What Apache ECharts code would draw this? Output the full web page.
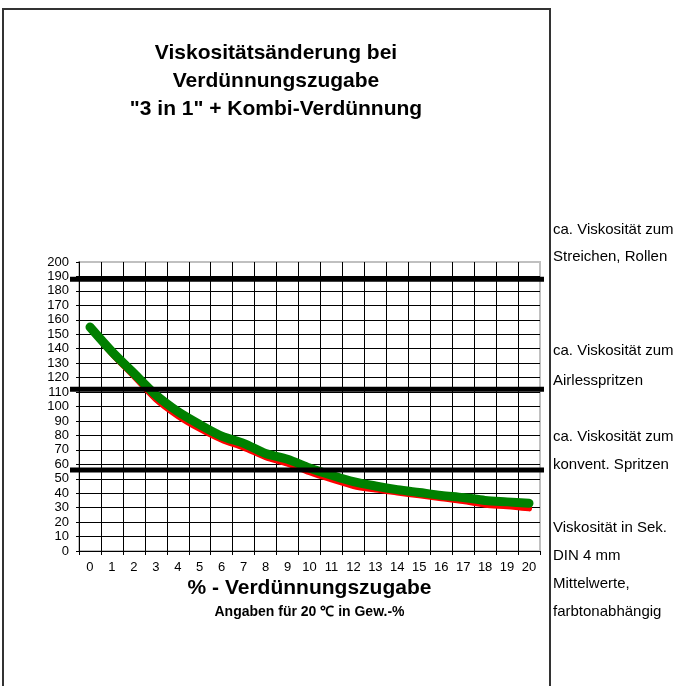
<!DOCTYPE html>
<html>
<head>
<meta charset="utf-8">
<script src="https://cdn.jsdelivr.net/npm/echarts@6/dist/echarts.min.js"></script>
<style>
  html, body { margin: 0; padding: 0; background: #fff; }
  #chart { width: 687px; height: 686px; }
</style>
</head>
<body>
<div id="chart"></div>
<script>
// x: % Verdünnung (Gew.-%)
const categories = ['0', '1', '2', '3', '4', '5', '6', '7', '8', '9', '10',
  '11', '12', '13', '14', '15', '16', '17', '18', '19', '20'];
// Viskosität in Sek. DIN 4 mm
const redValues = [155, 136.5, 121, 105, 93.5, 84.5, 77, 71.5, 65, 60.5, 54.5,
  49.5, 45, 42.5, 40.5, 38.5, 36.5, 34.5, 32, 31, 29.5];
const greenValues = [155, 138, 123, 108, 96.5, 87.5, 79.5, 74.5, 67.5, 63.5, 57.5,
  52.5, 48, 45, 42.5, 40.5, 38.5, 37, 35, 34, 33];
const yMin = 0;
const yMax = 200;
const yStep = 10;
// Richtwerte (dicke schwarze Linien)
const thresholds = [188, 112, 56];

const titleLines = ['Viskositätsänderung bei', 'Verdünnungszugabe', '"3 in 1" + Kombi-Verdünnung'];
const xName = '% - Verdünnungszugabe';
const xSubName = 'Angaben für 20 ℃ in Gew.-%';
const notes = [
  'ca. Viskosität zum', 'Streichen, Rollen',
  'ca. Viskosität zum', 'Airlesspritzen',
  'ca. Viskosität zum', 'konvent. Spritzen',
  'Viskosität in Sek.', 'DIN 4 mm', 'Mittelwerte,', 'farbtonabhängig'
];
const noteY = [230, 257, 351, 381, 437, 465, 528, 556, 584, 612];

const font = "'Liberation Sans', Arial, sans-serif";
const chart = echarts.init(document.getElementById('chart'), null, { renderer: 'canvas' });

const gridLeft = 79, gridRight = 147, gridTop = 262, gridBottom = 135;

chart.setOption({
  animation: false,
  backgroundColor: '#fff',
  grid: {
    left: gridLeft, right: gridRight, top: gridTop, bottom: gridBottom,
    show: true, borderColor: '#c0c0c0', borderWidth: 2, backgroundColor: 'transparent'
  },
  xAxis: {
    type: 'category',
    data: categories,
    boundaryGap: true,
    name: xName,
    nameLocation: 'middle',
    nameGap: 27,
    nameTextStyle: { fontFamily: font, fontSize: 21, fontWeight: 'bold', color: '#000' },
    axisLine: { lineStyle: { color: '#000', width: 1 } },
    axisTick: { show: true, length: 4, lineStyle: { color: '#000' } },
    axisLabel: { color: '#000', fontFamily: font, fontSize: 13, margin: 10, interval: 0 },
    splitLine: { show: true, showMinLine: false, showMaxLine: false, lineStyle: { color: '#000', width: 1 } }
  },
  yAxis: {
    type: 'value',
    min: yMin, max: yMax, interval: yStep,
    axisLine: { show: true, lineStyle: { color: '#000', width: 1 } },
    axisTick: { show: true, length: 3, lineStyle: { color: '#000' } },
    axisLabel: { color: '#000', fontFamily: font, fontSize: 13, margin: 10 },
    splitLine: { show: true, showMinLine: false, showMaxLine: false, lineStyle: { color: '#000', width: 1 } }
  },
  series: [
    {
      type: 'line', data: redValues, smooth: 0.3, showSymbol: false, z: 3,
      lineStyle: { color: '#ff0000', width: 6, cap: 'round', join: 'round' }
    },
    {
      type: 'line', data: greenValues, smooth: 0.3, showSymbol: false, z: 4,
      lineStyle: { color: '#008000', width: 9, cap: 'round', join: 'round' }
    }
  ]
});

const graphics = [];
// outer frame
graphics.push({
  type: 'rect', shape: { x: 3, y: 9, width: 547, height: 700 },
  style: { fill: null, stroke: '#333', lineWidth: 2 }, z: 1
});
// thick threshold lines
thresholds.forEach(v => {
  const y = chart.convertToPixel({ yAxisIndex: 0 }, v);
  graphics.push({
    type: 'line', z: 10,
    shape: { x1: gridLeft - 9, y1: y, x2: 687 - gridRight + 4, y2: y },
    style: { stroke: '#000', lineWidth: 5 }
  });
});
// title
graphics.push({
  type: 'text', x: 276, y: 39, z: 10,
  style: {
    text: titleLines.join('\n'), font: 'bold 21px ' + font, fill: '#000',
    align: 'center', verticalAlign: 'top', lineHeight: 28
  }
});
// subtitle under axis name
graphics.push({
  type: 'text', x: (gridLeft + 687 - gridRight) / 2, y: 612, z: 10,
  style: { text: xSubName, font: 'bold 14px ' + font, fill: '#000', align: 'center', verticalAlign: 'middle' }
});
// notes on the right
notes.forEach((t, i) => {
  graphics.push({
    type: 'text', x: 553, y: noteY[i], z: 10,
    style: { text: t, font: '15px ' + font, fill: '#000', align: 'left', verticalAlign: 'middle' }
  });
});
chart.setOption({ graphic: graphics });
</script>
</body>
</html>
